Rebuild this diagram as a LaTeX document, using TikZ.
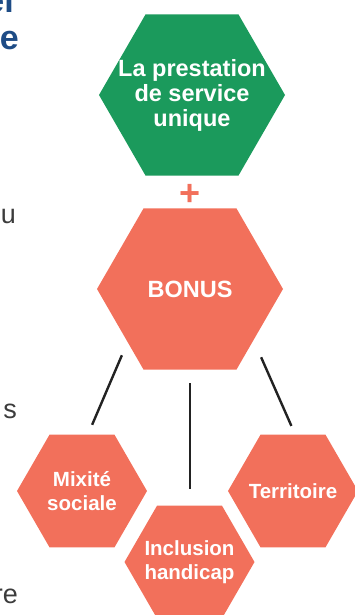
\documentclass[tikz,border=0pt]{standalone}
\usepackage{fontspec}
\setmainfont{Liberation Sans}
\usepackage{tikz}
\usetikzlibrary{shapes.geometric}
\usetikzlibrary{positioning}
\definecolor{prestgreen}{RGB}{27,154,92}
\definecolor{bonusred}{RGB}{242,112,91}
\definecolor{headblue}{RGB}{30,76,134}
\definecolor{linkgray}{RGB}{34,34,34}
\definecolor{fraggray}{RGB}{60,60,60}
\tikzset{
    hexagon/.style={regular polygon, regular polygon sides=6, inner sep=0pt, draw=none},
    greenhex/.style={hexagon, fill=prestgreen, minimum size=186pt},
    bighex/.style={hexagon, fill=bonusred, minimum size=186pt},
    smallhex/.style={hexagon, fill=bonusred, minimum size=130pt},
    biglabel/.style={text=white, align=center, inner sep=0pt, font=\bfseries\fontsize{23.5}{25}\selectfont},
    smalllabel/.style={text=white, align=center, inner sep=0pt, font=\bfseries\fontsize{20.5}{24.5}\selectfont},
    plussign/.style={text=bonusred, inner sep=0pt, font=\bfseries\fontsize{36}{36}\selectfont},
    link/.style={draw=linkgray, line width=2.4pt},
    headfrag/.style={text=headblue, inner sep=0pt, font=\bfseries\fontsize{34}{36}\selectfont},
    bodyfrag/.style={text=fraggray, inner sep=0pt, font=\fontsize{27}{30}\selectfont},
}

\begin{document}
\begin{tikzpicture}[x=1pt, y=-1pt]
\path[use as bounding box] (0,0) rectangle (355,615);
\clip (0,0) rectangle (355,615);
	% cut-off text on the left
	\node[headfrag, anchor=base east] (headA) at (14,13) {el};
	\node[headfrag, anchor=base east] (headB) at (19,50) {e};
	\node[bodyfrag, anchor=base east] (bodyA) at (16,223) {u};
	\node[bodyfrag, anchor=base east] (bodyB) at (17,418) {s};
	\node[bodyfrag, anchor=base east] (bodyC) at (18,603) {re};
	% hexagons
	\node[greenhex] (prestation) at (192,95) {};
	\node[biglabel] (prestationtext) at (prestation) {La prestation\\de service\\unique};
	\node[plussign] (plus) at (190,195) {+};
	\node[bighex] (bonus) at (190,289) {};
	\node[biglabel] (bonustext) at (bonus) {BONUS};
	\node[smallhex] (mixite) at (82,491) {};
	\node[smalllabel] (mixitetext) at (mixite) {Mixité\\sociale};
	\node[smallhex] (inclusion) at (189.5,562) {};
	\node[smalllabel] (inclusiontext) at (inclusion) {Inclusion\\handicap};
	\node[smallhex] (territoire) at (293,491) {};
	\node[smalllabel] (territoiretext) at (territoire) {Territoire};
	% links
	\draw[link] ([shift={(-21.5,-14.5)}]bonus.240) -- ([shift={(-22.5,-9.7)}]mixite.60);
	\draw[link] ([shift={(0,13.5)}]bonus.south) -- ([shift={(0.5,-16.6)}]inclusion.north);
	\draw[link] ([shift={(24.5,-12.5)}]bonus.300) -- ([shift={(31,-8.6)}]territoire.120);
\end{tikzpicture}
\end{document}
